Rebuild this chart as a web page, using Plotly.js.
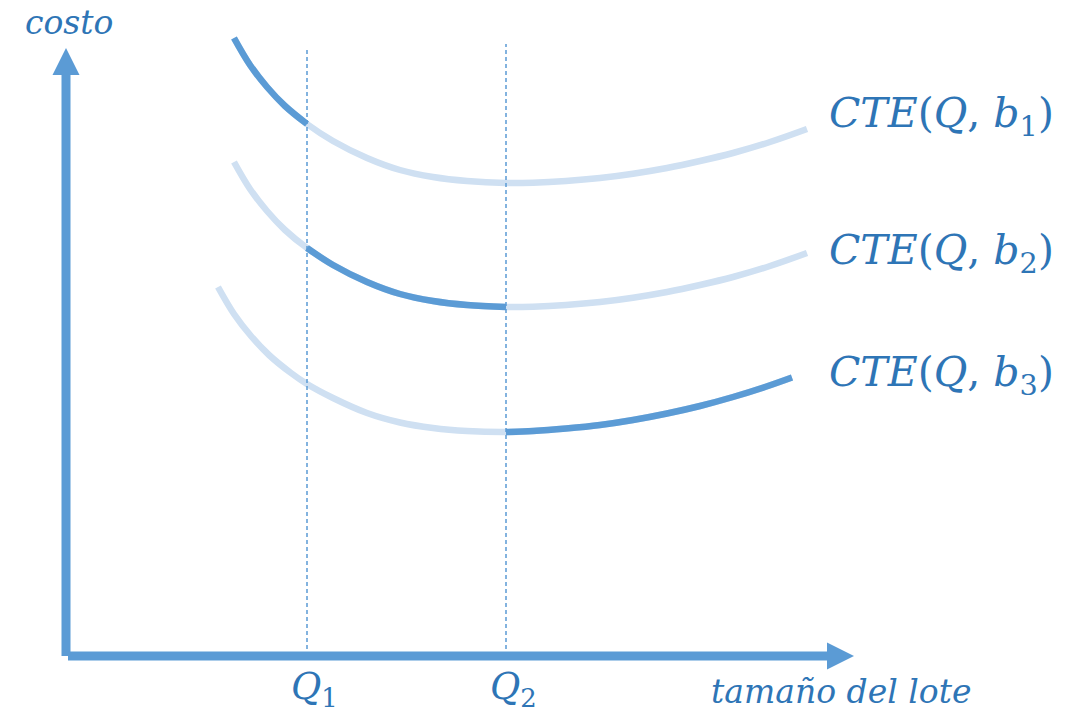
<!DOCTYPE html>
<html>
<head>
<meta charset="utf-8">
<script src="https://cdn.plot.ly/plotly-3.0.1.min.js"></script>
<style>
  html, body { margin: 0; padding: 0; background: #ffffff; }
  #chart { width: 1082px; height: 717px; }
</style>
</head>
<body>
<div id="chart"></div>
<script>
// Lot sizes marked on the horizontal axis
const Q1 = 24.1;
const Q2 = 44.0;

// Expected total cost curves CTE(Q, b) for three price breaks
const q_b1 = [16.8, 18.4, 20.1, 21.9, 24.1, 26.7, 30.1, 33.4, 36.7, 40.1, 44.0, 46.7, 50.0, 53.4, 56.7, 60.1, 63.4, 66.7, 70.4, 74.1];
const cte_b1 = [61.8, 59.1, 56.9, 55.0, 53.2, 51.5, 49.8, 48.6, 47.9, 47.5, 47.3, 47.33, 47.5, 47.8, 48.23, 48.8, 49.5, 50.3, 51.4, 52.7];

const q_b2 = [16.8, 18.4, 20.1, 21.9, 24.1, 26.7, 30.1, 33.4, 36.7, 40.1, 44.0, 46.7, 50.0, 53.4, 56.7, 60.1, 63.4, 66.7, 70.4, 74.1];
const cte_b2 = [49.4, 46.7, 44.5, 42.6, 40.8, 39.1, 37.4, 36.2, 35.5, 35.1, 34.9, 34.93, 35.1, 35.4, 35.83, 36.4, 37.1, 37.9, 39.0, 40.3];

const q_b3 = [15.2, 16.8, 18.5, 20.3, 22.5, 24.1, 26.7, 30.1, 33.4, 36.7, 40.1, 44.0, 46.7, 50.0, 53.4, 56.7, 60.1, 63.4, 66.7, 69.9, 72.6];
const cte_b3 = [36.9, 34.2, 32.0, 30.1, 28.3, 27.2, 25.8, 24.3, 23.35, 22.8, 22.5, 22.4, 22.5, 22.75, 23.1, 23.6, 24.25, 25.0, 25.9, 26.9, 27.85];

// Curve labels
const curveLabels = [
  "<i>CTE</i>(<i>Q</i>, <i>b</i><sub>1</sub>)",
  "<i>CTE</i>(<i>Q</i>, <i>b</i><sub>2</sub>)",
  "<i>CTE</i>(<i>Q</i>, <i>b</i><sub>3</sub>)"
];
const qLabels = ["<i>Q</i><sub>1</sub>", "<i>Q</i><sub>2</sub>"];
const yLabel = "<i>costo</i>";
const xLabel = "<i>tamaño del lote</i>";

// Extent of the axes and the dashed guides
const axisXEnd = 76.1, axisYEnd = 58.1, headLen = 2.7, headHalf = 1.35;
const guideTop = [60.9, 61.2];

const DARK = "#5B9BD5";
const LIGHT = "#CFE0F2";
const TEXT = "#2E75B6";
const FONT = "DejaVu Serif, Liberation Serif, serif";

// Keep the part of a curve that lies between lo and hi
function segment(xs, ys, lo, hi) {
  const sx = [], sy = [];
  xs.forEach((v, i) => { if (v >= lo - 1e-9 && v <= hi + 1e-9) { sx.push(v); sy.push(ys[i]); } });
  return { x: sx, y: sy };
}

function curve(x, y, color) {
  return {
    x: x, y: y, type: "scatter", mode: "lines",
    line: { color: color, width: 6.5, shape: "spline", smoothing: 1 },
    hoverinfo: "skip", showlegend: false
  };
}

const s1 = segment(q_b1, cte_b1, -Infinity, Q1);
const s2 = segment(q_b2, cte_b2, Q1, Q2);
const s3 = segment(q_b3, cte_b3, Q2, Infinity);

const traces = [
  curve(q_b1, cte_b1, LIGHT),
  curve(q_b2, cte_b2, LIGHT),
  curve(q_b3, cte_b3, LIGHT),
  curve(s1.x, s1.y, DARK),
  curve(s2.x, s2.y, DARK),
  curve(s3.x, s3.y, DARK),
  {
    x: [Q1, Q1], y: [0, guideTop[0]], type: "scatter", mode: "lines",
    line: { color: DARK, width: 1.5, dash: "4px,3px" }, hoverinfo: "skip", showlegend: false
  },
  {
    x: [Q2, Q2], y: [0, guideTop[1]], type: "scatter", mode: "lines",
    line: { color: DARK, width: 1.5, dash: "4px,3px" }, hoverinfo: "skip", showlegend: false
  }
];

// Axis arrows
const shapes = [
  { type: "line", xref: "x", yref: "y", x0: 0, y0: 0, x1: 0, y1: axisYEnd,
    line: { color: DARK, width: 9 } },
  { type: "line", xref: "x", yref: "y", x0: 0.2, y0: 0, x1: axisXEnd, y1: 0,
    line: { color: DARK, width: 9 } },
  { type: "path", xref: "x", yref: "y",
    path: `M ${-headHalf} ${axisYEnd} L ${headHalf} ${axisYEnd} L 0 ${axisYEnd + headLen} Z`,
    fillcolor: DARK, line: { width: 0 } },
  { type: "path", xref: "x", yref: "y",
    path: `M ${axisXEnd} ${-headHalf} L ${axisXEnd} ${headHalf} L ${axisXEnd + headLen} 0 Z`,
    fillcolor: DARK, line: { width: 0 } }
];

const labelY = [54.0, 40.3, 28.1];

const annotations = [];
curveLabels.forEach((t, i) => {
  annotations.push({
    x: 76.1, y: labelY[i], xref: "x", yref: "y", text: t, showarrow: false,
    xanchor: "left", yanchor: "middle", font: { family: FONT, size: 41, color: TEXT }
  });
});
[Q1, Q2].forEach((q, i) => {
  annotations.push({
    x: q + 0.7, y: -3.3, xref: "x", yref: "y", text: qLabels[i], showarrow: false,
    xanchor: "center", yanchor: "middle", font: { family: FONT, size: 37, color: TEXT }
  });
});
annotations.push({
  x: -4.3, y: 63.4, xref: "x", yref: "y", text: yLabel, showarrow: false,
  xanchor: "left", yanchor: "middle", font: { family: FONT, size: 33, color: TEXT }
});
annotations.push({
  x: 64.3, y: -3.5, xref: "x", yref: "y", text: xLabel, showarrow: false,
  xanchor: "left", yanchor: "middle", font: { family: FONT, size: 33, color: TEXT }
});

const hidden = { visible: false, showgrid: false, zeroline: false, fixedrange: true };

const layout = {
  width: 1082, height: 717,
  margin: { l: 0, r: 0, t: 0, b: 0 },
  paper_bgcolor: "#ffffff", plot_bgcolor: "#ffffff",
  xaxis: Object.assign({ range: [-6.6, 101.6] }, hidden),
  yaxis: Object.assign({ range: [-6.1, 65.6] }, hidden),
  shapes: shapes,
  annotations: annotations,
  showlegend: false
};

Plotly.newPlot("chart", traces, layout, { staticPlot: true, displayModeBar: false });
</script>
</body>
</html>
